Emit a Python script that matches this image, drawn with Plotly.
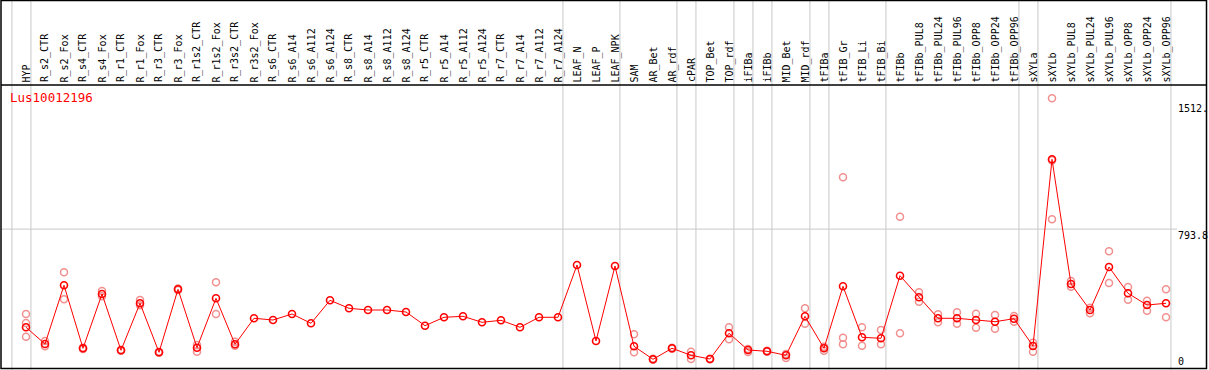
import plotly.graph_objects as go

gene = "Lus10012196"

samples = ["HYP", "R_s2_CTR", "R_s2_Fox", "R_s4_CTR", "R_s4_Fox", "R_r1_CTR", "R_r1_Fox",
           "R_r3_CTR", "R_r3_Fox", "R_r1s2_CTR", "R_r1s2_Fox", "R_r3s2_CTR", "R_r3s2_Fox",
           "R_s6_CTR", "R_s6_A14", "R_s6_A112", "R_s6_A124", "R_s8_CTR", "R_s8_A14",
           "R_s8_A112", "R_s8_A124", "R_r5_CTR", "R_r5_A14", "R_r5_A112", "R_r5_A124",
           "R_r7_CTR", "R_r7_A14", "R_r7_A112", "R_r7_A124", "LEAF_N", "LEAF_P", "LEAF_NPK",
           "SAM", "AR_Bet", "AR_rdf", "cPAR", "TOP_Bet", "TOP_rdf", "iFIBa", "iFIBb",
           "MID_Bet", "MID_rdf", "tFIBa", "tFIB_Gr", "tFIB_Li", "tFIB_Bi", "tFIBb",
           "tFIBb_PUL8", "tFIBb_PUL24", "tFIBb_PUL96", "tFIBb_OPP8", "tFIBb_OPP24",
           "tFIBb_OPP96", "sXYLa", "sXYLb", "sXYLb_PUL8", "sXYLb_PUL24", "sXYLb_PUL96",
           "sXYLb_OPP8", "sXYLb_OPP24", "sXYLb_OPP96"]

mean_values = [240.6, 146.5, 477.2, 122.3, 428.2, 111.0, 375.8, 99.7, 454.6, 125.6,
               403.9, 144.8, 291.3, 281.7, 315.5, 263.1, 392.7, 347.6, 338.0, 338.0,
               326.8, 249.6, 296.9, 302.5, 268.7, 280.0, 240.6, 296.9, 296.9, 591.5,
               163.4, 585.9, 133.5, 60.3, 122.3, 82.8, 62.0, 206.8, 112.7, 105.4,
               82.8, 302.5, 122.3, 471.5, 184.2, 178.6, 531.3, 409.6, 291.3, 291.3,
               281.7, 272.1, 289.0, 135.2, 1187.0, 484.5, 338.0, 580.3, 432.1, 366.2,
               375.8]

replicates = [[315.5, 264.8, 187.6], [163.4, 133.5], [550.4, 398.3], [118.0, 126.0],
              [445.1, 415.2], [108.0, 114.0], [394.4, 364.5], [97.0, 103.0], [450.0, 459.0],
              [140.8, 103.1], [494.1, 315.5], [159.4, 136.9], [], [], [], [], [], [], [], [],
              [], [], [], [], [], [], [], [], [], [], [], [],
              [201.1, 99.7], [58.0, 63.0], [120.0, 125.0], [103.1, 62.0], [60.0, 64.0],
              [240.6, 173.0], [118.3, 101.4], [103.0, 108.0], [67.6, 90.0], [347.6, 260.8],
              [131.3, 108.7], [182.0, 144.8, 1085.6], [240.6, 136.9], [225.4, 144.8],
              [863.7, 206.8], [437.7, 384.8], [313.8, 268.7], [325.1, 260.8], [317.2, 238.3],
              [309.9, 232.7], [304.2, 272.1], [153.8, 103.1], [1530.7, 849.0, 1181.0],
              [501.4, 469.3], [319.4, 350.0], [668.7, 490.1], [467.6, 396.1], [390.4, 334.1],
              [454.6, 296.9]]

group_ends = [-1, 0, 28, 31, 34, 35, 37, 38, 39, 41, 42, 45, 52, 53, 60]

tick_values = [1512.0, 793.8, 0.0]
tick_labels = ["1512.", "793.8", "0"]

W, H = 1209, 370
HEADER = 85
Y_MAX = 1605.6
X_RANGE = [-26 / 19, (W - 26) / 19]

def px(x):
    return x / W

def py(y):
    return 1 - y / H

rep_x, rep_y = [], []
for i, reps in enumerate(replicates):
    for v in reps:
        rep_x.append(i)
        rep_y.append(v)

xs = list(range(len(samples)))

fig = go.Figure()
fig.add_trace(go.Scatter(x=rep_x, y=rep_y, mode="markers",
                         marker=dict(symbol="circle-open", size=7, color="#f09090",
                                     line=dict(width=1.5, color="#f09090")),
                         hoverinfo="skip", showlegend=False))
fig.add_trace(go.Scatter(x=xs, y=mean_values, mode="lines+markers",
                         line=dict(color="#ff0000", width=1),
                         marker=dict(symbol="circle-open", size=7, color="#ff0000",
                                     line=dict(width=1.6, color="#ff0000")),
                         showlegend=False))

shapes = []
for g in group_ends:
    shapes.append(dict(type="line", xref="x", yref="paper", x0=g + 0.26, x1=g + 0.26,
                       y0=0, y1=1, line=dict(color="#c8c8c8", width=1), layer="below"))
shapes.append(dict(type="line", xref="paper", yref="y", x0=px(1), x1=px(1177),
                   y0=tick_values[1], y1=tick_values[1], line=dict(color="#c8c8c8", width=1),
                   layer="below"))
# borders
shapes.append(dict(type="rect", xref="paper", yref="paper", x0=px(1), x1=px(1206.5),
                   y0=py(368.5), y1=py(0.5), line=dict(color="black", width=1.5)))
shapes.append(dict(type="line", xref="paper", yref="paper", x0=px(1), x1=px(1206.5),
                   y0=py(HEADER), y1=py(HEADER), line=dict(color="black", width=1.5)))

annotations = []
mono = "DejaVu Sans Mono"
for i, s in enumerate(samples):
    annotations.append(dict(x=i, y=py(83.5), xref="x", yref="paper", text=s,
                            textangle=-90, xanchor="center", yanchor="bottom",
                            showarrow=False, borderpad=0,
                            font=dict(family=mono, size=10, color="black")))
anchors = ["top", "top", "bottom"]
for v, t, a in zip(tick_values, tick_labels, anchors):
    annotations.append(dict(x=px(1177), y=v if a == "top" else 11, xref="paper", yref="y",
                            text=t, xanchor="left", yanchor=a, showarrow=False,
                            borderpad=0, font=dict(family=mono, size=10, color="black")))
annotations.append(dict(x=px(9), y=py(97.5), xref="paper", yref="paper", text=gene,
                        xanchor="left", yanchor="middle", showarrow=False, borderpad=0,
                        font=dict(family=mono, size=12.5, color="#ff0000")))

fig.update_layout(
    width=W, height=H, margin=dict(l=0, r=0, t=0, b=0),
    paper_bgcolor="white", plot_bgcolor="white",
    xaxis=dict(range=X_RANGE, visible=False, fixedrange=True),
    yaxis=dict(range=[0, Y_MAX], domain=[0, (H - HEADER) / H], visible=False,
               fixedrange=True),
    shapes=shapes, annotations=annotations, showlegend=False,
)

fig.write_html("out.html", config={"displayModeBar": False},
               post_script="document.body.style.margin='0';")
